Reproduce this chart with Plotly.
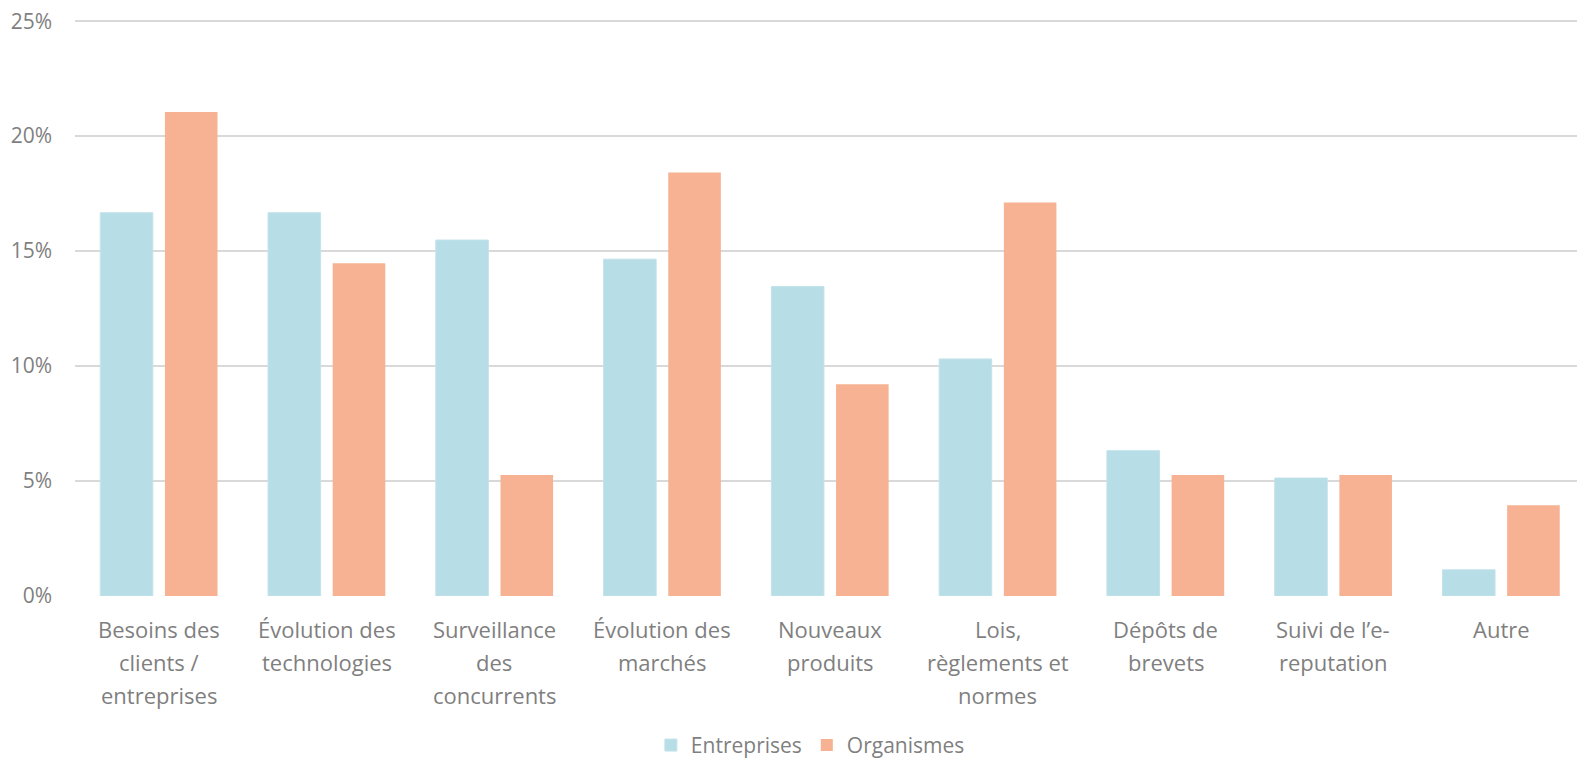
import plotly.graph_objects as go

categories = [
    "Besoins des clients / entreprises",
    "Évolution des technologies",
    "Surveillance des concurrents",
    "Évolution des marchés",
    "Nouveaux produits",
    "Lois, règlements et normes",
    "Dépôts de brevets",
    "Suivi de l’e-reputation",
    "Autre",
]
label_lines = [
    ["Besoins des", "clients /", "entreprises"],
    ["Évolution des", "technologies"],
    ["Surveillance", "des", "concurrents"],
    ["Évolution des", "marchés"],
    ["Nouveaux", "produits"],
    ["Lois,", "règlements et", "normes"],
    ["Dépôts de", "brevets"],
    ["Suivi de l’e-", "reputation"],
    ["Autre"],
]
entreprises = [0.1667, 0.1667, 0.1548, 0.1465, 0.1346, 0.1031, 0.0632, 0.0513, 0.0114]
organismes = [0.2105, 0.1447, 0.0526, 0.1842, 0.0921, 0.1711, 0.0526, 0.0526, 0.0395]
y_ticks = [0, 0.05, 0.10, 0.15, 0.20, 0.25]
y_ticktext = ["0%", "5%", "10%", "15%", "20%", "25%"]

TEXT = "#7f7f7f"
FONT = "Open Sans, Noto Sans, sans-serif"

fig = go.Figure()
fig.add_trace(go.Bar(name="Entreprises", x=categories, y=entreprises,
                     marker=dict(color="#B7DDE6", line=dict(color="#C3E3EB", width=1))))
fig.add_trace(go.Bar(name="Organismes", x=categories, y=organismes,
                     marker=dict(color="#F6B292", line=dict(width=0))))

annotations = []
for cat, lines in zip(categories, label_lines):
    for i, line in enumerate(lines):
        annotations.append(dict(
            x=cat, xref="x", y=0, yref="paper", yanchor="middle", xanchor="center",
            yshift=-33 - 33 * i, text=line, showarrow=False,
            font=dict(family=FONT, size=22, color=TEXT)))

fig.update_layout(
    width=1577, height=753,
    margin=dict(l=67, r=0, t=12, b=165, autoexpand=False),
    paper_bgcolor="white", plot_bgcolor="white",
    barmode="group", bargap=0.229, bargroupgap=0.187,
    font=dict(family=FONT, size=21, color=TEXT),
    xaxis=dict(showticklabels=False, showgrid=False, zeroline=False,
               showline=False, ticks="", automargin=False),
    yaxis=dict(range=[0, 0.2505], tickvals=y_ticks, ticktext=y_ticktext,
               showgrid=True, gridcolor="#D9D9D9", gridwidth=1.5,
               zeroline=False, showline=False, ticks="",
               ticklabelstandoff=22, automargin=False, ticklabeloverflow="allow",
               tickfont=dict(family=FONT, size=21, color=TEXT)),
    legend=dict(orientation="h", x=0.487, xanchor="center", y=-0.295, yanchor="bottom",
                font=dict(family=FONT, size=21, color=TEXT), traceorder="normal"),
    annotations=annotations,
    showlegend=True,
)

fig.write_html("out.html")
